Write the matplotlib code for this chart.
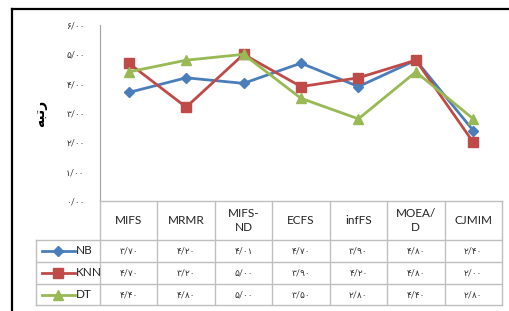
import matplotlib.pyplot as plt
from matplotlib.lines import Line2D

plt.rcParams['font.family'] = ['Lato', 'DejaVu Sans']

categories = ['MIFS', 'MRMR', 'MIFS-\nND', 'ECFS', 'infFS', 'MOEA/\nD', 'CJMIM']
series_names = ['NB', 'KNN', 'DT']
nb = [3.70, 4.20, 4.01, 4.70, 3.90, 4.80, 2.40]
knn = [4.70, 3.20, 5.00, 3.90, 4.20, 4.80, 2.00]
dt = [4.40, 4.80, 5.00, 3.50, 2.80, 4.40, 2.80]
y_ticks = [0, 1, 2, 3, 4, 5, 6]
y_title = '\ufeea\ufe92\ufe97\ufead'  # رتبه in visual order

colors = ['#4A7EBB', '#BE4B48', '#98B954']
markers = ['D', 's', '^']
msizes = [5, 6.5, 7]

FA = str.maketrans('0123456789', '۰۱۲۳۴۵۶۷۸۹')


def fa(v):
    return f'{v:.2f}'.replace('.', '/').translate(FA)


W, H = 510, 311
fig = plt.figure(figsize=(W / 100, H / 100), dpi=100)

# outer frame (only top and left edges are visible in the crop)
fig.add_artist(Line2D([12 / W, 1.0], [1 - 9 / H, 1 - 9 / H], transform=fig.transFigure,
                      color='black', lw=1.6))
fig.add_artist(Line2D([12 / W, 12 / W], [0, 1 - 9 / H], transform=fig.transFigure,
                      color='black', lw=1.6))

# plot area
ax = fig.add_axes([100 / W, (H - 201) / H, 402 / W, 176 / H])
xs = list(range(len(categories)))
for vals, c, m, ms in zip([nb, knn, dt], colors, markers, msizes):
    ax.plot(xs, vals, color=c, marker=m, markersize=ms, linewidth=2.0)
ax.set_xlim(-0.5, len(categories) - 0.5)
ax.set_ylim(0, 6)
ax.set_xticks([])
ax.set_yticks(y_ticks)
ax.set_yticklabels([fa(v) for v in y_ticks], fontsize=6.5, color='#2E2E2E')
ax.tick_params(axis='y', length=0, pad=11)
for s in ['top', 'right', 'bottom']:
    ax.spines[s].set_visible(False)
ax.spines['left'].set_color('#A0A0A0')
ax.set_ylabel(y_title, fontsize=10, labelpad=14, family=['DejaVu Sans'],
              fontweight='bold')

# data table
tx = fig.add_axes([100 / W, (H - 305) / H, 402 / W, 104 / H])
tx.set_xlim(-0.5, len(categories) - 0.5)
tx.set_ylim(104, 0)
tx.axis('off')
grid = '#BFBFBF'
rows = [0, 39, 61, 83, 104]
left = -0.5 - 64 / 57.43
for y in rows:
    x0 = -0.5 if y == 0 else left
    tx.add_line(Line2D([x0, 6.5], [y, y], color=grid, lw=1, clip_on=False))
for i in range(len(categories) + 1):
    tx.add_line(Line2D([i - 0.5, i - 0.5], [0, 104], color=grid, lw=1, clip_on=False))
tx.add_line(Line2D([left, left], [39, 104], color=grid, lw=1, clip_on=False))

for i, cat in enumerate(categories):
    tx.text(i, 19.5, cat, ha='center', va='center', fontsize=8.5,
            color='#222222', linespacing=1.3)

for r, (name, vals, c, m, ms) in enumerate(zip(series_names, [nb, knn, dt], colors, markers, msizes)):
    yc = (rows[r + 1] + rows[r + 2]) / 2
    kx0 = left + 0.1
    kx1 = left + 0.68
    tx.add_line(Line2D([kx0, kx1], [yc, yc], color=c, lw=2.0, clip_on=False))
    tx.plot([(kx0 + kx1) / 2], [yc], marker=m, color=c, markersize=ms, clip_on=False)
    tx.text(kx1 + 0.02, yc, name, ha='left', va='center', fontsize=8.5, color='#222222')
    for i, v in enumerate(vals):
        tx.text(i, yc, fa(v), ha='center', va='center', fontsize=6.5, color='#2E2E2E')

fig.savefig('out.png', dpi=100)
